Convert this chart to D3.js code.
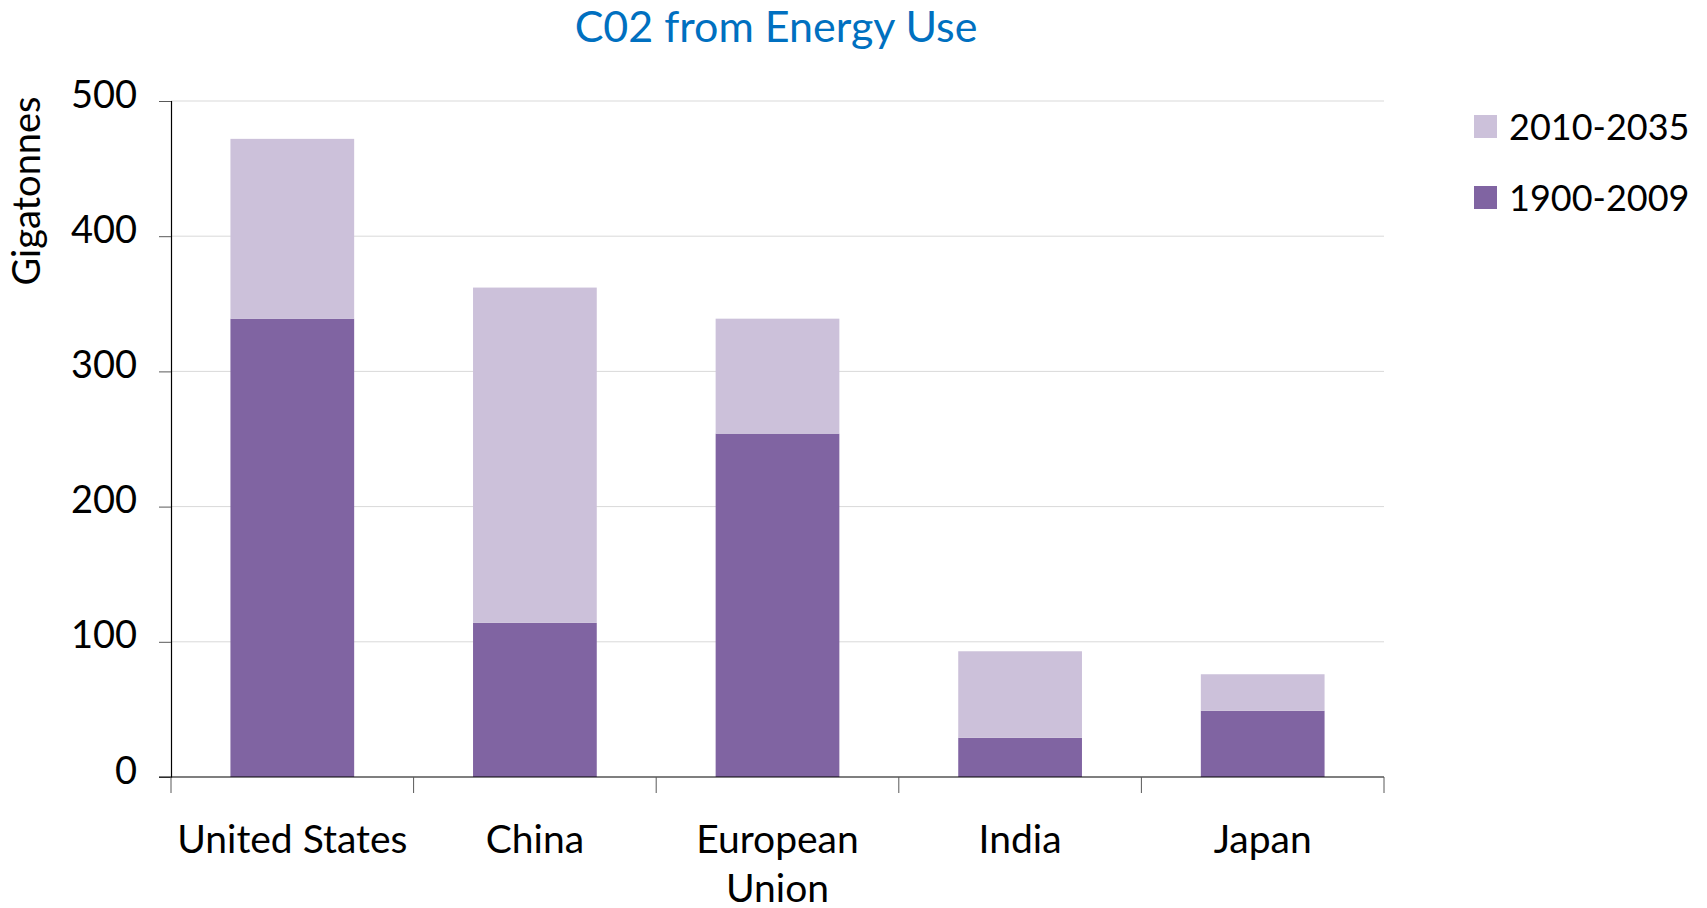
<!DOCTYPE html>
<html>
<head>
<meta charset="utf-8">
<script src="https://cdn.jsdelivr.net/npm/d3@7"></script>
<style>
  html, body { margin: 0; padding: 0; background: #fff; overflow: hidden; }
  svg text { font-family: Lato, "Open Sans", sans-serif; }
</style>
</head>
<body>
<svg id="chart" width="1707" height="908"></svg>
<script>
// Cumulative CO2 emissions from energy use, gigatonnes
const categories = ["United States", "China", "European Union", "India", "Japan"];
const seriesNames = ["1900-2009", "2010-2035"];
const historical = [339, 114, 254, 29, 49];   // 1900-2009
const projected  = [133, 248, 85, 64, 27];    // 2010-2035
const yTicks = [0, 100, 200, 300, 400, 500];
const colors = { "1900-2009": "#8064A2", "2010-2035": "#CCC1DA" };

const rows = categories.map((c, i) => ({
  category: c,
  "1900-2009": historical[i],
  "2010-2035": projected[i]
}));

const svg = d3.select("#chart");
const margin = { left: 171, right: 1384, top: 101, bottom: 777 };

const x = d3.scaleBand()
  .domain(categories)
  .range([margin.left, margin.right])
  .paddingInner(0.49)
  .paddingOuter(0.245);

const y = d3.scaleLinear()
  .domain([0, 500])
  .range([margin.bottom, margin.top]);

// horizontal gridlines
svg.append("g")
  .selectAll("line")
  .data(yTicks.filter(d => d > 0))
  .join("line")
  .attr("x1", margin.left)
  .attr("x2", margin.right)
  .attr("y1", d => y(d))
  .attr("y2", d => y(d))
  .attr("stroke", "#d9d9d9")
  .attr("stroke-width", 1);

// stacked bars
const stacked = d3.stack().keys(seriesNames)(rows);
svg.append("g")
  .selectAll("g")
  .data(stacked)
  .join("g")
  .attr("fill", d => colors[d.key])
  .selectAll("rect")
  .data(d => d)
  .join("rect")
  .attr("x", d => x(d.data.category))
  .attr("width", x.bandwidth())
  .attr("y", d => y(d[1]))
  .attr("height", d => y(d[0]) - y(d[1]));

// y axis
const yAxis = svg.append("g")
  .attr("transform", `translate(${margin.left},0)`)
  .call(d3.axisLeft(y).tickValues(yTicks).tickSize(12).tickPadding(22));
yAxis.select(".domain").attr("stroke", "#000").attr("stroke-width", 1.2);
yAxis.selectAll(".tick line").attr("stroke", "#595959");
yAxis.selectAll(".tick text")
  .attr("font-size", 38)
  .attr("fill", "#000")
  .attr("dy", "0.16em");

// x axis: ticks sit on category boundaries
const boundaries = d3.range(categories.length + 1).map(i =>
  margin.left + i * (margin.right - margin.left) / categories.length);
const xg = svg.append("g");
xg.append("line")
  .attr("x1", margin.left - 12).attr("x2", margin.right)
  .attr("y1", margin.bottom).attr("y2", margin.bottom)
  .attr("stroke", "#000").attr("stroke-width", 1.2);
xg.selectAll("line.tick")
  .data(boundaries)
  .join("line")
  .attr("class", "tick")
  .attr("x1", d => d).attr("x2", d => d)
  .attr("y1", margin.bottom).attr("y2", margin.bottom + 16)
  .attr("stroke", "#595959");

// category labels, wrapping two-word names that don't fit
const labelLines = c => c === "European Union" ? ["European", "Union"] : [c];
xg.selectAll("text.cat")
  .data(categories)
  .join("text")
  .attr("class", "cat")
  .attr("text-anchor", "middle")
  .attr("font-size", 39)
  .attr("fill", "#000")
  .each(function (c) {
    const t = d3.select(this);
    labelLines(c).forEach((line, i) => {
      t.append("tspan")
        .attr("x", x(c) + x.bandwidth() / 2)
        .attr("y", 853 + i * 49)
        .text(line);
    });
  });

// y axis title
svg.append("text")
  .attr("transform", "translate(40,191) rotate(-90)")
  .attr("text-anchor", "middle")
  .attr("font-size", 38)
  .attr("fill", "#000")
  .text("Gigatonnes");

// chart title
svg.append("text")
  .attr("x", 776)
  .attr("y", 42)
  .attr("text-anchor", "middle")
  .attr("font-size", 43)
  .attr("fill", "#0070C0")
  .text("C02 from Energy Use");

// legend (projected period listed first)
const legendItems = ["2010-2035", "1900-2009"];
const legend = svg.append("g")
  .selectAll("g")
  .data(legendItems)
  .join("g")
  .attr("transform", (d, i) => `translate(1474,${115 + i * 71})`);
legend.append("rect")
  .attr("width", 23).attr("height", 23)
  .attr("fill", d => colors[d]);
legend.append("text")
  .attr("x", 35)
  .attr("y", 12)
  .attr("dy", "0.36em")
  .attr("font-size", 36)
  .attr("fill", "#000")
  .text(d => d);
</script>
</body>
</html>
